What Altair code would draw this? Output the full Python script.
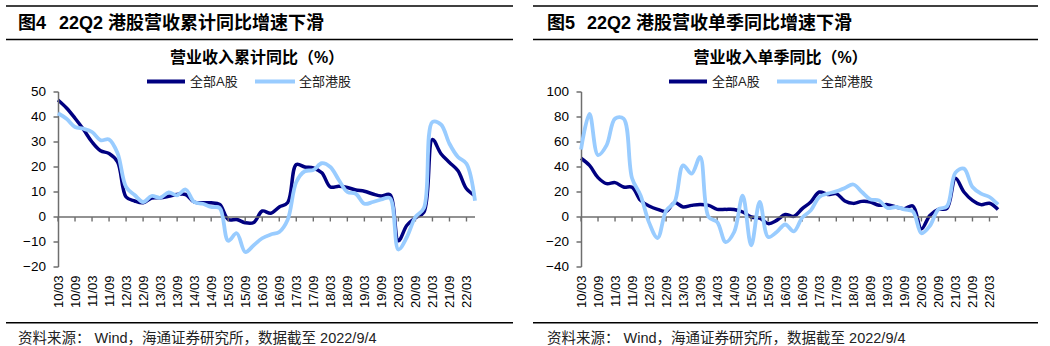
import altair as alt
import pandas as pd

# ---------------- data ----------------
quarters = [f"{y:02d}/{m}" for y in range(10, 23) for m in ("03", "06", "09", "12")][:50]
tick_labels = [q for q in quarters if q.endswith("03") or q.endswith("09")]

# 营业收入累计同比（%）
cum_a = [46.8, 43.6, 39.5, 35.0, 30.0, 26.5, 25.4, 22.0, 8.0, 6.4,
         5.7, 7.6, 7.7, 8.3, 9.0, 9.0, 6.0, 5.7, 5.7, 5.0,
         -1.0, -1.0, -2.3, -2.2, 2.4, 1.5, 4.0, 5.8, 21.0, 20.0,
         19.6, 17.7, 12.0, 12.3, 11.8, 10.8, 10.3, 9.2, 8.4, 8.9,
         -9.5, -3.3, -0.3, 2.0, 31.0, 25.3, 21.8, 18.5, 11.3, 8.5]
cum_hk = [41.5, 39.3, 36.0, 35.3, 34.0, 30.7, 31.0, 25.5, 12.0, 8.8,
          6.0, 8.4, 7.7, 9.8, 8.7, 11.0, 6.0, 5.3, 4.0, 3.6,
          -9.5, -6.5, -14.0, -11.3, -8.5, -7.0, -6.0, -1.0, 14.0, 18.3,
          18.8, 21.5, 20.0, 14.8, 10.0, 9.3, 5.3, 6.0, 7.0, 7.6,
          -13.0, -8.0, 0.0, 3.6, 38.0, 37.0, 29.3, 24.0, 21.3, 6.5]

# 营业收入单季同比（%）
sq_a = [47.0, 41.3, 31.5, 26.7, 27.5, 24.0, 23.8, 13.3, 8.8, 6.1,
        4.5, 11.5, 8.0, 9.3, 10.1, 9.3, 6.1, 6.1, 6.0, 4.0,
        0.0, -0.8, -5.3, -2.7, 2.0, 0.5, 6.7, 12.0, 20.0, 18.0,
        18.7, 12.8, 10.9, 12.5, 12.0, 9.4, 9.9, 8.0, 6.7, 8.8,
        -9.5, 1.3, 6.1, 6.9, 31.0, 20.0, 13.3, 9.9, 11.0, 6.0]
sq_hk = [54.0, 82.5, 49.5, 57.3, 78.7, 78.7, 31.0, 17.3, -4.5, -16.8,
         5.0, 12.0, 41.3, 34.7, 48.0, 0.0, -4.0, -20.0, -12.0, 17.0,
         -22.7, 12.0, -16.0, -12.0, -6.0, -11.5, -0.5, 5.3, 16.0, 18.7,
         20.5, 23.2, 26.0, 20.0, 14.1, 13.3, 7.2, 8.0, 6.1, 4.5,
         -13.0, -7.0, 6.1, 8.5, 35.5, 38.7, 24.0, 18.7, 16.0, 9.9]

series_names = ["全部A股", "全部港股"]

# ---------------- style ----------------
FONT = "Liberation Sans, Noto Sans CJK SC"
DARK = "#000080"
LIGHT = "#99CCFF"
AXIS_GRAY = "#6e6e6e"
W, H = 417, 175
one = pd.DataFrame({"k": [0]})


def rule_px(x0, x1, y, color="black", sw=1.5):
    return alt.Chart(one).mark_rule(color=color, strokeWidth=sw).encode(
        x=alt.value(x0), x2=alt.value(x1), y=alt.value(y))


def text_px(txt, x, y, size, bold=False, align="left", color="black"):
    return alt.Chart(one).mark_text(
        text=txt, align=align, baseline="middle", fontSize=size,
        fontWeight="bold" if bold else "normal", font=FONT, color=color
    ).encode(x=alt.value(x), y=alt.value(y))


def panel(a, hk, ydomain, yvalues, fig_no, title, subtitle, L, R, tx, tx2, sub_cx,
          leg):
    df = pd.DataFrame({"q": quarters, "a": a, "hk": hk})
    yv = pd.DataFrame({"v": yvalues})
    xscale = alt.Scale(type="point", padding=0, domain=quarters)
    xaxis = alt.Axis(values=tick_labels, labelAngle=-90, domain=False, ticks=False,
                     tickSize=0, labelPadding=8, labelFontSize=13, labelFont=FONT,
                     labelColor="black", title=None, grid=False, labelOverlap=False)
    yscale = alt.Scale(domain=ydomain, nice=False, zero=False)
    X = alt.X("q:N", scale=xscale, axis=xaxis)
    Yv = alt.Y("v:Q", scale=yscale, axis=None)
    tick_len = 4.5 * (ydomain[1] - ydomain[0]) / H  # 4.5 px in data units

    # y axis drawn from the y scale
    y_domain = alt.Chart(one).mark_rule(color=AXIS_GRAY, strokeWidth=1.5).encode(
        x=alt.value(0.5),
        y=alt.Y(datum=ydomain[0], scale=yscale, axis=None),
        y2=alt.Y2(datum=ydomain[1]))
    y_ticks = alt.Chart(yv).mark_rule(color=AXIS_GRAY, strokeWidth=1.5).encode(
        y=Yv, x=alt.value(-4.5), x2=alt.value(0.5))
    y_labels = alt.Chart(yv).mark_text(
        align="right", baseline="middle", fontSize=13.5, font=FONT, color="black"
    ).encode(y=Yv, x=alt.value(-12), text="v:Q")

    zero = alt.Chart(one).mark_rule(color=AXIS_GRAY, strokeWidth=1.5).encode(
        y=alt.Y(datum=0, scale=yscale, axis=None))
    ticks = alt.Chart(pd.DataFrame({"q": tick_labels})).mark_rule(
        color=AXIS_GRAY, strokeWidth=1.4
    ).encode(x=X, y=alt.Y(datum=0, scale=yscale, axis=None), y2=alt.Y2(datum=-tick_len))
    line_a = alt.Chart(df).mark_line(color=DARK, strokeWidth=3.5,
                                     interpolate="catmull-rom").encode(
        x=X, y=alt.Y("a:Q", scale=yscale, axis=None))
    line_hk = alt.Chart(df).mark_line(color=LIGHT, strokeWidth=3.8,
                                      interpolate="catmull-rom").encode(
        x=X, y=alt.Y("hk:Q", scale=yscale, axis=None))

    decos = [
        rule_px(L, R, -86),
        text_px(fig_no, tx, -68.5, 18, bold=True),
        text_px(title, tx2, -68.5, 18, bold=True),
        rule_px(L, R, -52.5),
        text_px(subtitle, sub_cx, -34.5, 16, bold=True, align="center"),
        rule_px(leg[0], leg[0] + 38, -10.5, color=DARK, sw=4),
        text_px(series_names[0], leg[0] + 43, -10.5, 13, color="#222222"),
        rule_px(leg[1], leg[1] + 40, -10.5, color=LIGHT, sw=4),
        text_px(series_names[1], leg[1] + 44, -10.5, 13, color="#222222"),
        rule_px(L, R, 230.7),
        text_px("资料来源：  Wind，海通证券研究所，数据截至 2022/9/4", tx, 247, 14.5,
                color="#222222"),
    ]
    return alt.layer(line_a, zero, ticks, y_domain, y_ticks, y_labels, line_hk,
                     *decos).properties(width=W, height=H)


left = panel(cum_a, cum_hk, [-20, 50], list(range(-20, 51, 10)),
             "图4", "22Q2 港股营收累计同比增速下滑", "营业收入累计同比（%）",
             L=-52, R=455, tx=-40, tx2=1, sub_cx=199, leg=(89, 197))
right = panel(sq_a, sq_hk, [-40, 100], list(range(-40, 101, 20)),
              "图5", "22Q2 港股营收单季同比增速下滑", "营业收入单季同比（%）",
              L=-48, R=457, tx=-34, tx2=6, sub_cx=199.5, leg=(88, 196))

chart = alt.hconcat(left, right, spacing=106, bounds="flush").configure(
    padding={"left": 5, "top": 5, "right": 5, "bottom": 0},
    background="white",
).configure_view(stroke=None)

chart.save("out.html", embed_options={"renderer": "svg", "actions": False})
